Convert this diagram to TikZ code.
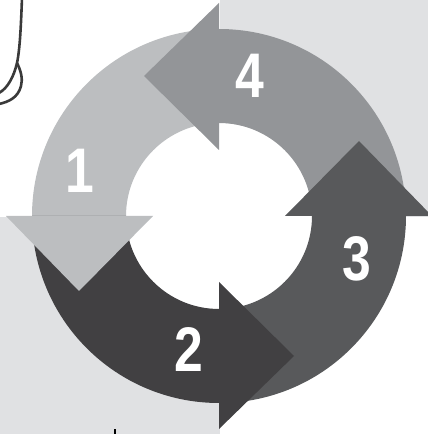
\documentclass[tikz,border=0pt]{standalone}
\usepackage{fontspec}
\newfontfamily\digitfont{Liberation Sans}[FakeStretch=0.82]
\usetikzlibrary{calc}
\definecolor{cyclight}{HTML}{BCBEC0}
\definecolor{cycmid}{HTML}{939598}
\definecolor{cycdark}{HTML}{58595B}
\definecolor{cycdeep}{HTML}{414042}
\definecolor{panelgray}{HTML}{E0E1E3}
\definecolor{hookline}{HTML}{3A3A3A}

\begin{document}
\begin{tikzpicture}[x=1pt, y=1pt,
  num/.style={text=white, font=\digitfont\bfseries\fontsize{63}{63}\selectfont, inner sep=0pt},
  hook/.style={draw=hookline, line width=2.6pt, line cap=round}]
\useasboundingbox (0,0) rectangle (428,434);
\clip (0,0) rectangle (428,434);
\coordinate (c) at (219,218);
% grey panels
\fill[panelgray] (220,217) rectangle (428,434);
\fill[panelgray] (0,0) rectangle (220,217);
\fill[white] (c) circle[radius=93];
% ring quarters
\foreach \a/\col in {90/cyclight, 180/cycdeep, 270/cycdark, 0/cycmid}
  \fill[\col] ($(c)+(\a:187)$) arc[start angle=\a, end angle=\a+90, radius=187]
    -- ($(c)+(\a+90:93)$) arc[start angle=\a+90, end angle=\a, radius=93] -- cycle;
% arrow heads
\foreach \a/\col in {180/cyclight, 270/cycdeep, 0/cycdark, 90/cycmid}
  \fill[\col, shift={(c)}, rotate=\a] (66,0) -- (213,0) -- (140,75) -- cycle;
% numbers
\node[num] (n1) at (80,263) {1};
\node[num] (n2) at (189,84) {2};
\node[num] (n3) at (357,175) {3};
\node[num] (n4) at (250,358) {4};
% bits of the next picture
\draw[hook] (22,436) .. controls (21,410) and (20,385) .. (17,371) .. controls (14,358) and (8,346) .. (-1,341);
\draw[hook] (17,371) .. controls (21,363) and (23,355) .. (21,348) .. controls (18,336) and (8,332) .. (-1,330);
\draw[line width=1.8pt] (115,0) -- (115,5);
\end{tikzpicture}
\end{document}
